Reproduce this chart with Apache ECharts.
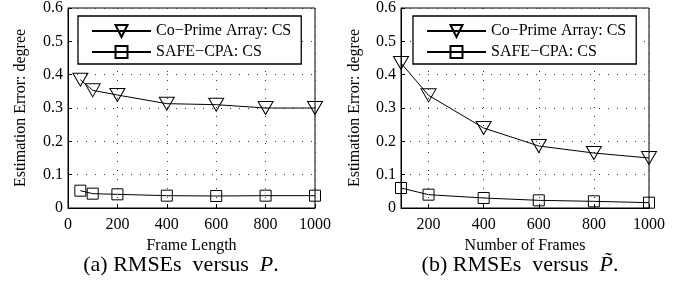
<!DOCTYPE html>
<html>
<head>
<meta charset="utf-8">
<script src="https://cdn.jsdelivr.net/npm/echarts@6/dist/echarts.min.js"></script>
<style>html,body{margin:0;padding:0;background:#fff;}#c{width:690px;height:292px;}</style>
</head>
<body>
<div id="c"></div>
<script>
// ---- data ----
const seriesNames = ['Co\u2212Prime Array: CS', 'SAFE\u2212CPA: CS'];
const xA = [50, 100, 200, 400, 600, 800, 1000];
const coPrimeA = [0.385, 0.353, 0.339, 0.313, 0.310, 0.300, 0.300];
const safeA = [0.052, 0.043, 0.041, 0.037, 0.036, 0.037, 0.037];
const xB = [100, 200, 400, 600, 800, 1000];
const coPrimeB = [0.435, 0.338, 0.240, 0.186, 0.165, 0.150];
const safeB = [0.060, 0.040, 0.030, 0.023, 0.020, 0.016];
const xTicksA = [0, 200, 400, 600, 800, 1000];
const xTicksB = [200, 400, 600, 800, 1000];
const xNameA = 'Frame Length';
const xNameB = 'Number of Frames';
const yName = 'Estimation Error: degree';

const FONT = 'Liberation Serif';
const pair = (xs, ys) => xs.map((x, i) => [x, ys[i]]);

function xAxis(gi, min, ticks, name) {
  return {
    type: 'value', gridIndex: gi, min: min, max: 1000,
    name: name, nameLocation: 'middle', nameGap: 30,
    nameTextStyle: { fontFamily: FONT, fontSize: 16, color: '#000' },
    axisLine: { show: true, onZero: false, lineStyle: { color: '#000', width: 1 } },
    axisTick: { show: true, inside: true, length: 4, customValues: ticks, lineStyle: { color: '#000' } },
    axisLabel: { customValues: ticks, fontFamily: FONT, fontSize: 16, color: '#000', margin: 9,
      formatter: v => String(v) },
    splitLine: { show: true, lineStyle: { color: '#333', type: [1, 8], width: 1 } }
  };
}
function yAxis(gi, gap) {
  return {
    type: 'value', gridIndex: gi, min: 0, max: 0.6, interval: 0.1,
    name: yName, nameLocation: 'middle', nameGap: gap,
    nameTextStyle: { fontFamily: FONT, fontSize: 16, color: '#000' },
    axisLine: { show: true, lineStyle: { color: '#000', width: 1 } },
    axisTick: { show: true, inside: true, length: 4, lineStyle: { color: '#000' } },
    axisLabel: { fontFamily: FONT, fontSize: 16, color: '#000', margin: 5,
      formatter: v => String(Math.round(v * 10) / 10) },
    splitLine: { show: true, lineStyle: { color: '#333', type: [1, 8], width: 1 } }
  };
}
function lineSeries(name, gi, data, tri) {
  return {
    type: 'line', name: name, xAxisIndex: gi, yAxisIndex: gi, data: data,
    symbol: tri ? 'triangle' : 'rect',
    symbolRotate: tri ? 180 : 0,
    symbolSize: tri ? [15, 13] : 11,
    showAllSymbol: true,
    lineStyle: { color: '#000', width: 1 },
    itemStyle: { color: 'transparent', borderColor: '#000', borderWidth: 1 },
    emphasis: { disabled: true },
    animation: false, z: 3
  };
}
function legend(left) {
  return {
    left: left, top: 16, orient: 'vertical',
    backgroundColor: '#fff', borderColor: '#000', borderWidth: 1.3,
    padding: [7, 10, 4, 13], itemGap: 5, itemWidth: 59, itemHeight: 15,
    textStyle: { fontFamily: FONT, fontSize: 16, color: '#000', lineHeight: 16 },
    data: seriesNames, selectedMode: false
  };
}

const chart = echarts.init(document.getElementById('c'), null, { renderer: 'canvas' });
chart.setOption({
  backgroundColor: '#fff',
  animation: false,
  textStyle: { fontFamily: FONT },
  grid: [
    { left: 68, right: 375, top: 6, bottom: 84, show: true, borderColor: '#000', borderWidth: 1, backgroundColor: 'transparent' },
    { left: 401, right: 41, top: 6, bottom: 84, show: true, borderColor: '#000', borderWidth: 1, backgroundColor: 'transparent' }
  ],
  xAxis: [xAxis(0, 0, xTicksA, xNameA), xAxis(1, 100, xTicksB, xNameB)],
  yAxis: [yAxis(0, 39), yAxis(1, 38)],
  legend: [legend(78), legend(413)],
  series: [
    lineSeries(seriesNames[0], 0, pair(xA, coPrimeA), true),
    lineSeries(seriesNames[1], 0, pair(xA, safeA), false),
    lineSeries(seriesNames[0], 1, pair(xB, coPrimeB), true),
    lineSeries(seriesNames[1], 1, pair(xB, safeB), false)
  ],
  graphic: [
    { type: 'text', x: 181, y: 265, style: {
      text: '(a) RMSEs  versus  {i|P}.', fontFamily: FONT, fontSize: 22, fill: '#000',
      align: 'center', verticalAlign: 'middle',
      rich: { i: { fontStyle: 'italic', fontFamily: FONT, fontSize: 22 } } } },
    { type: 'text', x: 520, y: 265, style: {
      text: '(b) RMSEs  versus  {i|P\u0303}.', fontFamily: FONT, fontSize: 22, fill: '#000',
      align: 'center', verticalAlign: 'middle',
      rich: { i: { fontStyle: 'italic', fontFamily: FONT, fontSize: 22 } } } }
  ]
});
</script>
</body>
</html>
